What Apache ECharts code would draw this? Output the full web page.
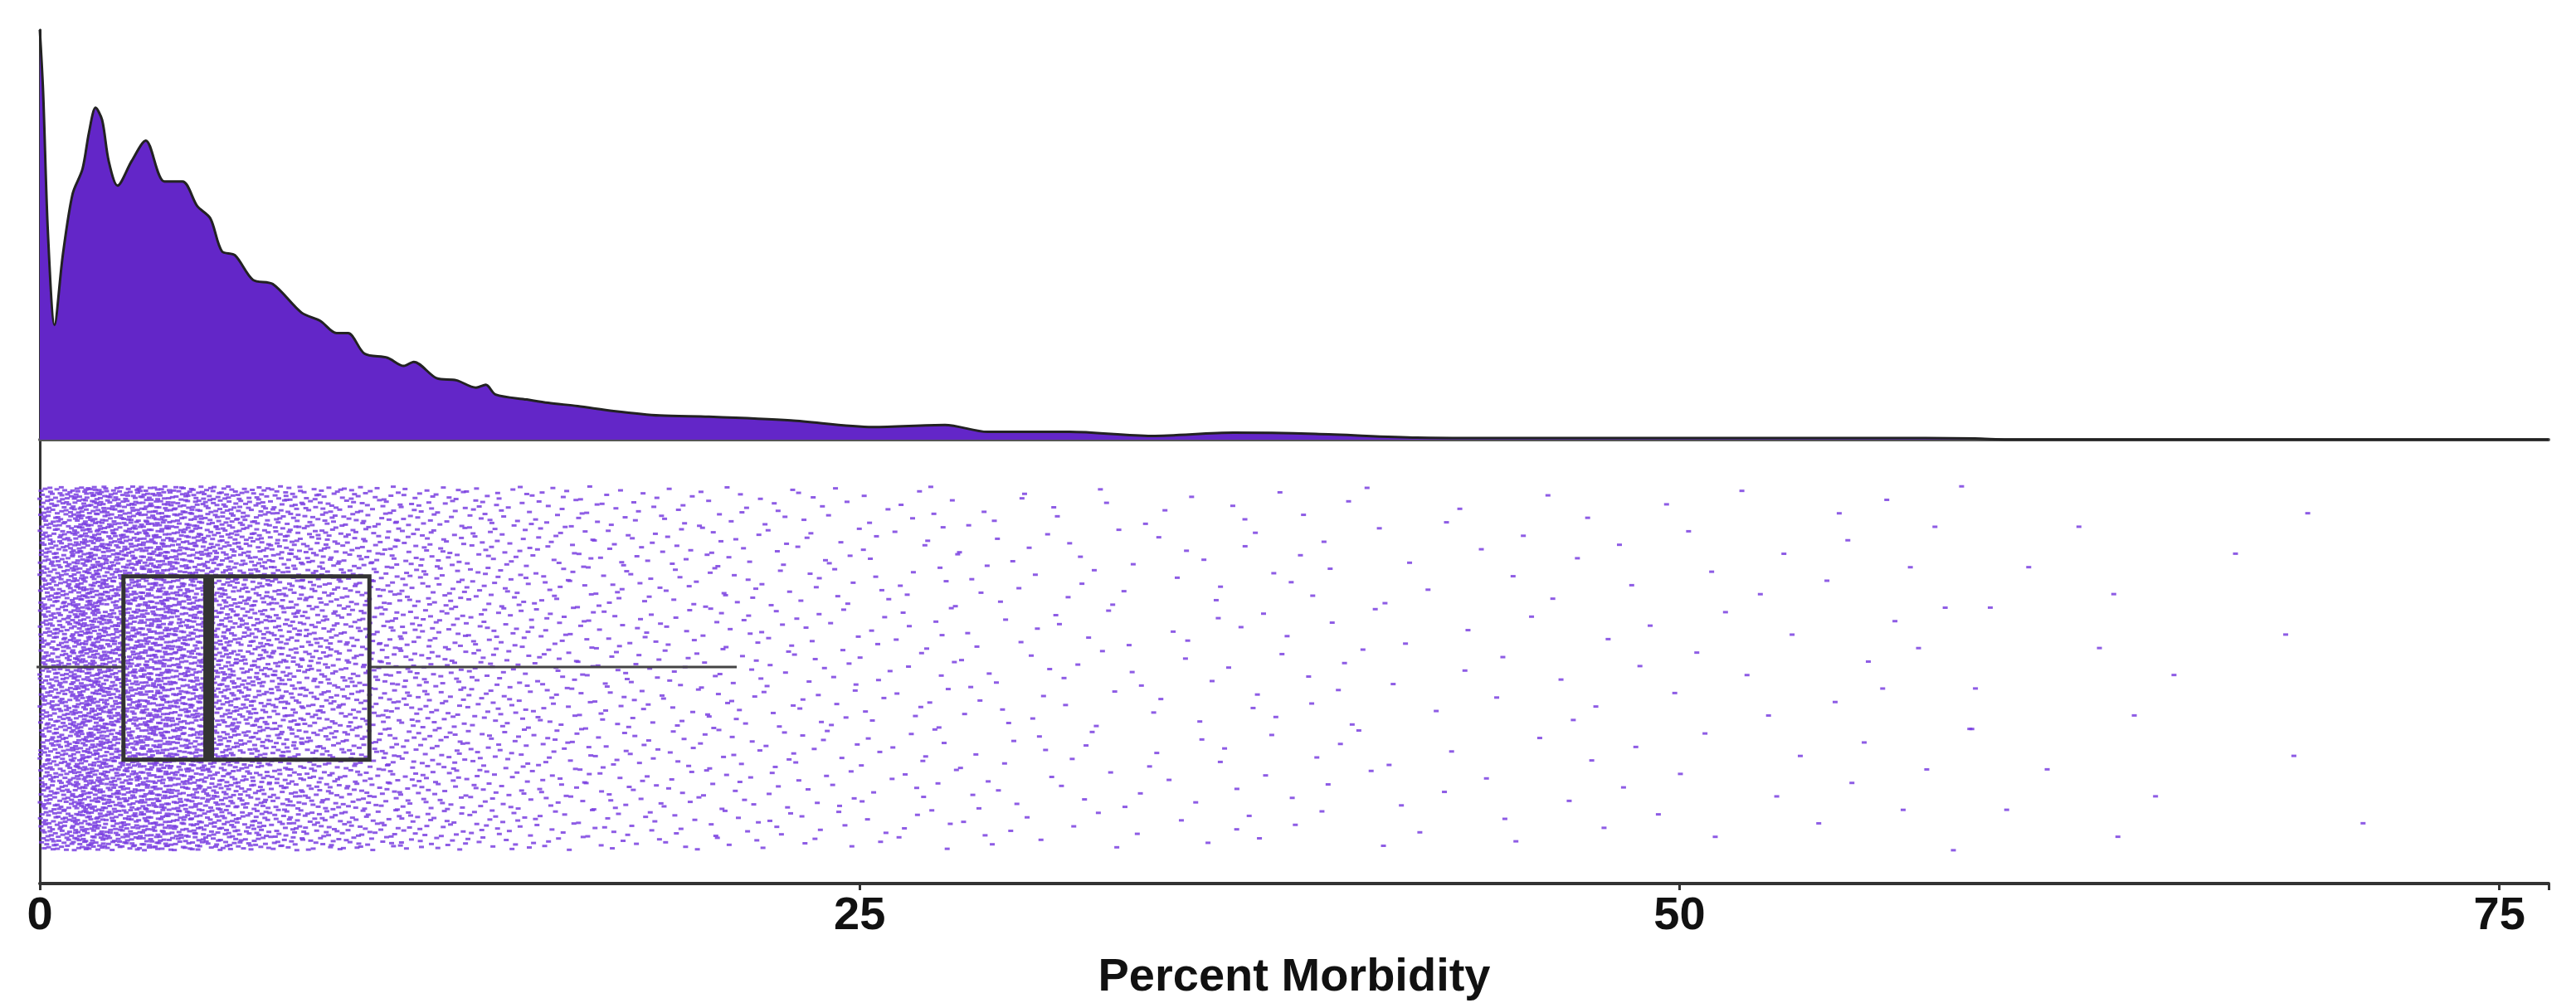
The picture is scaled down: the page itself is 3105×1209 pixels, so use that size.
<!DOCTYPE html>
<html><head><meta charset="utf-8">
<script src="https://cdn.jsdelivr.net/npm/echarts@6/dist/echarts.min.js"></script>
<style>html,body{margin:0;background:#fff}#c{width:3105px;height:1209px}</style>
</head><body><div id="c"></div>
<script>
// Density curve: [percent morbidity, relative density]
const densityX = [0,0.1,0.25,0.45,0.7,1.0,1.3,1.5,1.7,1.9,2.1,2.37,2.8,3.23,3.8,4.35,4.8,5.2,5.55,5.95,6.5,7.1,7.98,8.55,9.05,9.4,9.9,10.6,11.1,11.4,12.1,12.7,13.3,13.6,13.9,14.85,15.5,16.4,17.5,18.9,20.4,22.9,25.4,27.6,28.9,31.4,33.9,36.4,38.9,42,44,48,52,56,59,60,76.5];
const densityY = [1.0,0.85,0.5,0.28,0.45,0.6,0.66,0.75,0.81,0.78,0.68,0.62,0.68,0.73,0.63,0.63,0.57,0.54,0.46,0.45,0.39,0.38,0.31,0.29,0.26,0.26,0.21,0.2,0.18,0.19,0.15,0.145,0.127,0.134,0.11,0.098,0.09,0.082,0.07,0.059,0.056,0.047,0.031,0.036,0.019,0.019,0.009,0.017,0.014,0.005,0.004,0.004,0.004,0.004,0.003,0,0];
// Jitter strip: number of observations per 1-unit bin starting at 0
const binCounts = [560,740,640,660,570,490,400,345,290,250,200,170,145,125,105,90,78,68,60,53,50,45,40,36,32,27,25,26,20,17,16,15,13,11,10,11,11,10,10,9,8,6,5,5,5,5,5,5,5,4,5,3,4,3,4,4,4,4,5,3,1,1,2,3,1,1,1,0,2,1,1];
// Box summary: [lower whisker, Q1, median, Q3, upper whisker]
const boxStats = [-0.1,2.55,5.15,10.05,21.25];
const xTicks = [0,25,50,75];

function halton(i,b){let f=1,r=0;while(i>0){f/=b;r+=f*(i%b);i=Math.floor(i/b);}return r;}
const density = densityX.map((x,i)=>[x,densityY[i]]);
const pts = [];
let k = 0;
binCounts.forEach((n,b)=>{
  for (let j=0;j<n;j++){ k++;
    pts.push([b+halton(j+1+b*7,2), 0.075 + halton(k,3)*0.82]);
  }
});
const chart = echarts.init(document.getElementById('c'));
const axisLine = {show:true,lineStyle:{color:'#333',width:3}};
chart.setOption({
  animation:false,
  grid:[{left:48,right:33,top:36,height:494},{left:48,right:33,top:530,height:535}],
  xAxis:[
    {gridIndex:0,type:'value',min:0,max:76.5,axisLine:{show:true,onZero:false,lineStyle:{color:'#555',width:4}},axisTick:{show:false},axisLabel:{show:false},splitLine:{show:false}},
    {gridIndex:1,type:'value',min:0,max:76.5,interval:25,axisLine:{show:true,onZero:false,lineStyle:{color:'#333',width:4}},
     axisTick:{show:true,length:8,lineStyle:{color:'#333',width:3}},splitLine:{show:false},
     axisLabel:{fontSize:56,fontWeight:'bold',color:'#111',fontFamily:'Liberation Sans Narrow, Liberation Sans',margin:12,
       formatter:v=>xTicks.includes(v)?String(v):''},
     name:'Percent Morbidity',nameLocation:'middle',nameGap:86,
     nameTextStyle:{fontSize:56,fontWeight:'bold',color:'#111',fontFamily:'Liberation Sans'}}
  ],
  yAxis:[
    {gridIndex:0,type:'value',min:0,max:1,axisLine:axisLine,axisTick:{show:false},axisLabel:{show:false},splitLine:{show:false}},
    {gridIndex:1,type:'value',min:0,max:1,axisLine:axisLine,axisTick:{show:false},axisLabel:{show:false},splitLine:{show:false}}
  ],
  series:[
    {type:'line',xAxisIndex:0,yAxisIndex:0,data:density,smooth:0.3,symbol:'none',
     lineStyle:{color:'#222',width:3},areaStyle:{color:'#6326c8',opacity:1},z:2},
    {type:'scatter',xAxisIndex:1,yAxisIndex:1,data:pts,symbol:'rect',symbolSize:[6,3],
     itemStyle:{color:'#7a3fe0',opacity:0.85},large:true,largeThreshold:100000,z:1},
    {type:'custom',xAxisIndex:1,yAxisIndex:1,data:[boxStats],z:5,
     renderItem:(params,api)=>{
       const lo=api.value(0),q1=api.value(1),md=api.value(2),q3=api.value(3),hi=api.value(4);
       const yc=api.coord([0,0.488])[1], yt=api.coord([0,0.692])[1], yb=api.coord([0,0.279])[1];
       const X=v=>api.coord([v,0])[0];
       const st={stroke:'#333',lineWidth:5,fill:null};
       return {type:'group',children:[
         {type:'line',shape:{x1:X(lo),y1:yc,x2:X(q1),y2:yc},style:{stroke:'#444',lineWidth:3}},
         {type:'line',shape:{x1:X(q3),y1:yc,x2:X(hi),y2:yc},style:{stroke:'#444',lineWidth:3}},
         {type:'rect',shape:{x:X(q1),y:yt,width:X(q3)-X(q1),height:yb-yt},style:st},
         {type:'line',shape:{x1:X(md),y1:yt,x2:X(md),y2:yb},style:{stroke:'#333',lineWidth:13}}
       ]};
     }}
  ]
});
</script></body></html>
